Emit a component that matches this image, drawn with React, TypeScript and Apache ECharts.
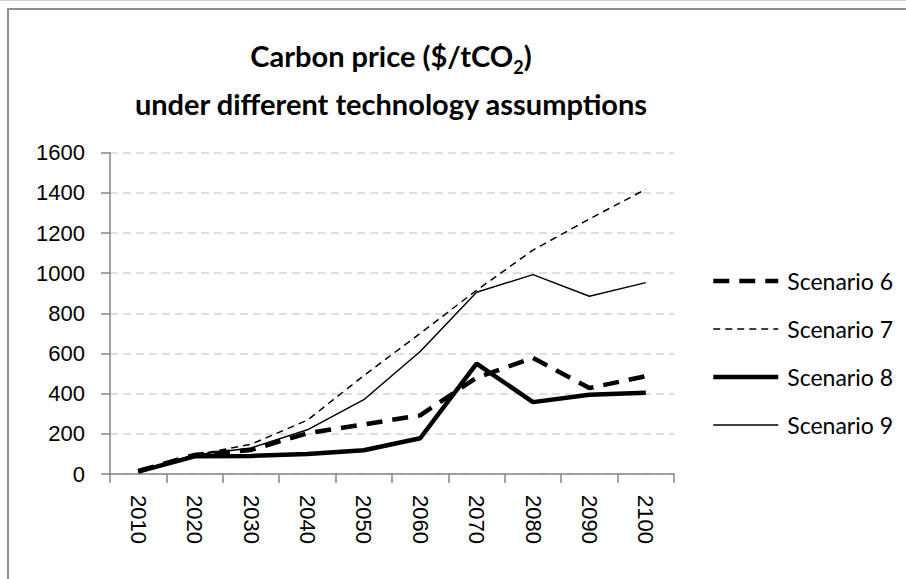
import React, { useEffect, useRef } from 'react';
import * as echarts from 'echarts';

const years = ['2010', '2020', '2030', '2040', '2050', '2060', '2070', '2080', '2090', '2100'];
const scenario6 = [15, 95, 120, 203, 247, 292, 480, 578, 428, 487];
const scenario7 = [12, 95, 148, 268, 490, 700, 915, 1115, 1270, 1418];
const scenario8 = [12, 88, 90, 100, 118, 178, 550, 358, 395, 405];
const scenario9 = [12, 95, 130, 220, 370, 610, 905, 993, 885, 953];
const seriesNames = ['Scenario 6', 'Scenario 7', 'Scenario 8', 'Scenario 9'];

const axisFont = 'Liberation Sans, Arial, sans-serif';
const textFont = 'Lato, Open Sans, sans-serif';

export default function App() {
  const ref = useRef<HTMLDivElement>(null);
  useEffect(() => {
    const chart = echarts.init(ref.current!, null, { renderer: 'svg' });
    const styles = [
      { width: 4.5, type: [16, 10] as any },
      { width: 1.5, type: [7, 5] as any },
      { width: 4.5, type: 'solid' as any },
      { width: 1.5, type: 'solid' as any },
    ];
    const data = [scenario6, scenario7, scenario8, scenario9];
    chart.setOption({
      animation: false,
      backgroundColor: '#ffffff',
      grid: { left: 110, right: 232, top: 152.7, bottom: 105, containLabel: false },
      xAxis: {
        type: 'category',
        data: years,
        boundaryGap: true,
        axisLine: { show: true, lineStyle: { color: '#868686', width: 1.5 } },
        axisTick: { show: true, length: 9, alignWithLabel: false, lineStyle: { color: '#868686', width: 1.5 } },
        axisLabel: { rotate: -90, margin: 21, color: '#000', fontSize: 22, fontFamily: axisFont, interval: 0 },
        splitLine: { show: false },
      },
      yAxis: {
        type: 'value',
        min: 0,
        max: 1600,
        interval: 200,
        axisLine: { show: true, lineStyle: { color: '#868686', width: 1.5 } },
        axisTick: { show: true, length: 9, lineStyle: { color: '#868686', width: 1.5 } },
        axisLabel: { margin: 25, color: '#000', fontSize: 22, fontFamily: axisFont, formatter: (v: number) => String(v) },
        splitLine: { show: true, lineStyle: { color: '#d4d4d4', width: 1.5, type: [8, 5] } },
      },
      legend: {
        orient: 'vertical',
        left: 711,
        top: 268,
        padding: 0,
        itemWidth: 65,
        itemHeight: 14,
        itemGap: 22,
        itemStyle: { opacity: 0, borderWidth: 0 },
        textStyle: { fontSize: 23, lineHeight: 26, fontFamily: textFont, color: '#000', padding: [0, 0, 0, 4] },
        data: seriesNames.map((n, i) => ({
          name: n,
          itemStyle: { opacity: 0, borderWidth: 0 },
          lineStyle: { color: '#000', width: styles[i].width, type: styles[i].type, opacity: 1 },
        })),
      },
      series: seriesNames.map((n, i) => ({
        name: n,
        type: 'line',
        data: data[i],
        symbol: 'none',
        showSymbol: false,
        color: '#000',
        lineStyle: { color: '#000', width: styles[i].width, type: styles[i].type },
      })),
      graphic: [
        { type: 'line', shape: { x1: 0, y1: 0.5, x2: 906, y2: 0.5 }, style: { stroke: '#cfcfcf', lineWidth: 1 } },
        { type: 'line', shape: { x1: 7, y1: 9, x2: 906, y2: 9 }, style: { stroke: '#8f8f8f', lineWidth: 2 } },
        { type: 'line', shape: { x1: 8, y1: 8, x2: 8, y2: 579 }, style: { stroke: '#8f8f8f', lineWidth: 2 } },
        {
          type: 'text',
          x: 391,
          y: 34,
          style: {
            text: '{a|Carbon price ($/tCO}{s|2}{a|)}',
            align: 'center',
            verticalAlign: 'top',
            rich: {
              a: { fontSize: 29, fontWeight: 'bold', fontFamily: textFont, lineHeight: 42, fill: '#000' },
              s: { fontSize: 18, fontWeight: 'bold', fontFamily: textFont, lineHeight: 14, verticalAlign: 'bottom', fill: '#000' },
            },
          },
        },
        {
          type: 'text',
          x: 391,
          y: 85,
          style: {
            text: 'under different technology assumptions',
            align: 'center',
            verticalAlign: 'top',
            fontSize: 29,
            fontWeight: 'bold',
            fontFamily: textFont,
            lineHeight: 36,
            fill: '#000',
          },
        },
      ],
    });
    return () => chart.dispose();
  }, []);
  return <div ref={ref} style={{ position: 'absolute', left: 0, top: 0, width: 906, height: 579, background: '#fff' }} />;
}
